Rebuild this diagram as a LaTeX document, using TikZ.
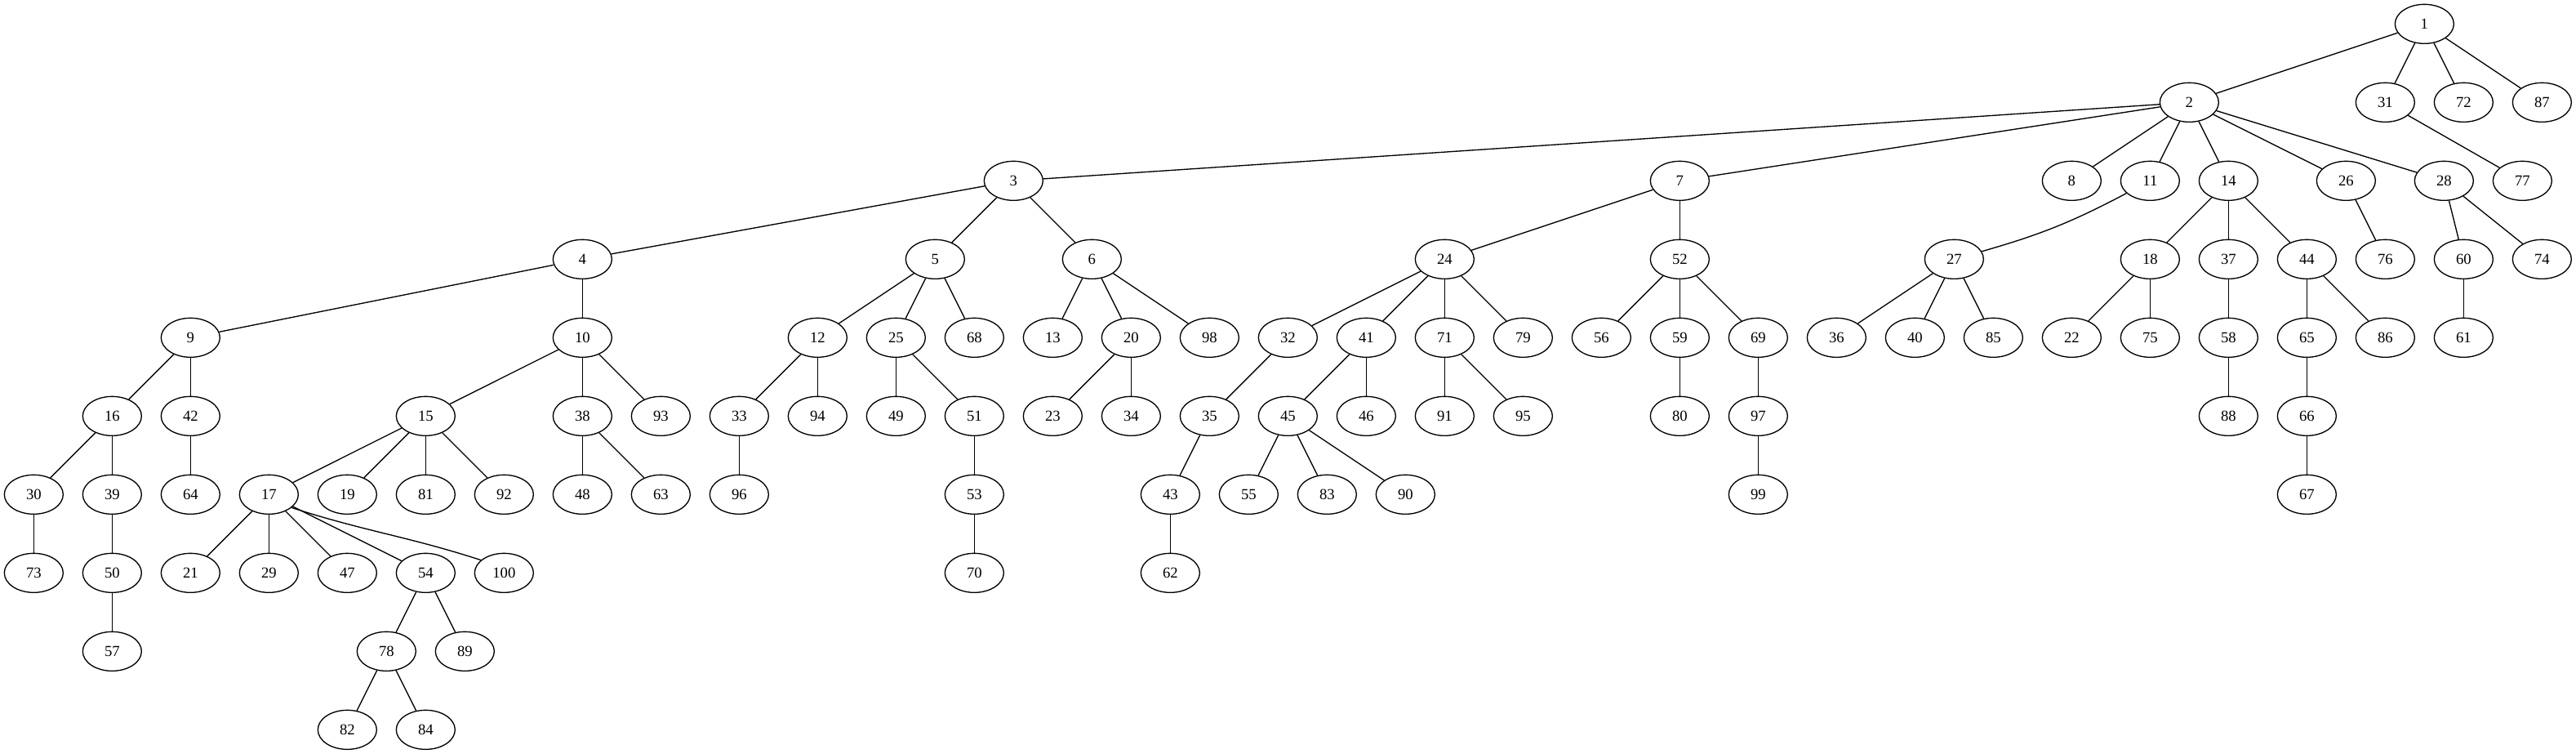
\documentclass[tikz,border=0pt]{standalone}
\usepackage{fontspec}
\setmainfont{Liberation Serif}
\usetikzlibrary{shapes.geometric}
\begin{document}
\begin{tikzpicture}[x=1pt,y=1pt,
  nd/.style={draw,line width=1pt,ellipse,minimum width=54pt,minimum height=36pt,inner sep=0pt,
    font=\fontsize{14}{16}\selectfont},
  ed/.style={line width=1pt}]
\useasboundingbox (0,0) rectangle (2366.25,-692.25);
\foreach \n/\k/\r in {
 1/30.5/0,
 2/27.5/1, 31/30/1, 72/31/1, 87/32/1,
 3/12.5/2, 7/21/2, 8/26/2, 11/27/2, 14/28/2, 26/29.5/2, 28/30.75/2, 77/31.75/2,
 4/7/3, 5/11.5/3, 6/13.5/3, 24/18/3, 52/21/3, 27/24.5/3, 18/27/3, 37/28/3, 44/29/3, 76/30/3, 60/31/3, 74/32/3,
 9/2/4, 10/7/4, 12/10/4, 25/11/4, 68/12/4, 13/13/4, 20/14/4, 98/15/4, 32/16/4, 41/17/4, 71/18/4, 79/19/4,
 56/20/4, 59/21/4, 69/22/4, 36/23/4, 40/24/4, 85/25/4, 22/26/4, 75/27/4, 58/28/4, 65/29/4, 86/30/4, 61/31/4,
 16/1/5, 42/2/5, 15/5/5, 38/7/5, 93/8/5, 33/9/5, 94/10/5, 49/11/5, 51/12/5, 23/13/5, 34/14/5, 35/15/5,
 45/16/5, 46/17/5, 91/18/5, 95/19/5, 80/21/5, 97/22/5, 88/28/5, 66/29/5,
 30/0/6, 39/1/6, 64/2/6, 17/3/6, 19/4/6, 81/5/6, 92/6/6, 48/7/6, 63/8/6, 96/9/6, 53/12/6, 43/14.5/6,
 55/15.5/6, 83/16.5/6, 90/17.5/6, 99/22/6, 67/29/6,
 73/0/7, 50/1/7, 21/2/7, 29/3/7, 47/4/7, 54/5/7, 100/6/7, 70/12/7, 62/14.5/7,
 57/1/8, 78/4.5/8, 89/5.5/8,
 82/4/9, 84/5/9}
 \node[nd] (n\n) at ({31+72*\k},{-22-72*\r}) {\n};
\foreach \a/\b in {
 1/2, 1/31, 1/72, 1/87,
 2/3, 2/7, 2/8, 2/11, 2/14, 2/26, 2/28,
 31/77, 3/4, 3/5, 3/6, 7/24, 7/52, 14/18, 14/37, 14/44, 26/76, 28/60, 28/74,
 4/9, 4/10, 5/12, 5/25, 5/68, 6/13, 6/20, 6/98, 24/32, 24/41, 24/71, 24/79,
 52/56, 52/59, 52/69, 27/36, 27/40, 27/85, 18/22, 18/75, 37/58, 44/65, 44/86, 60/61,
 9/16, 9/42, 10/15, 10/38, 10/93, 12/33, 12/94, 25/49, 25/51, 20/23, 20/34, 32/35,
 41/45, 41/46, 71/91, 71/95, 59/80, 69/97, 58/88, 65/66,
 16/30, 16/39, 42/64, 15/17, 15/19, 15/81, 15/92, 38/48, 38/63, 33/96, 51/53, 35/43,
 45/55, 45/83, 45/90, 97/99, 66/67, 30/73, 39/50, 17/21, 17/29, 17/47, 17/54,
 53/70, 43/62, 50/57, 54/78, 54/89, 78/82, 78/84}
 \draw[ed] (n\a) -- (n\b);
\draw[ed] (n11) to[bend left=6] (n27);
\draw[ed] (n17.-30) .. controls +(-18:70) and +(162:70) .. (n100.151);
\end{tikzpicture}
\end{document}
